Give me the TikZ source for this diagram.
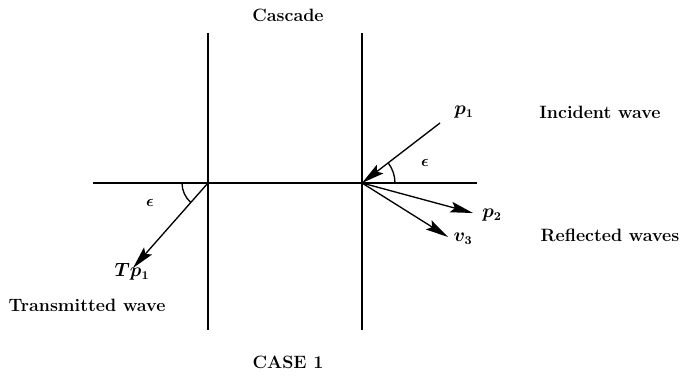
\documentclass[tikz,border=0pt]{standalone}
\usepackage{amsmath, amssymb}
\usetikzlibrary{arrows.meta, calc}
\tikzstyle{wall}=[line width=1pt]
\tikzstyle{wave}=[line width=1pt, -{Stealth[length=17pt, width=8pt, inset=3pt]}]
\tikzstyle{caption}=[font=\fontsize{13.4}{16}\selectfont\bfseries]
\tikzstyle{sym}=[font=\fontsize{13.4}{16}\selectfont\boldmath, inner sep=1pt]
\tikzstyle{angle}=[font=\large\boldmath, inner sep=1pt]

\begin{document}
\begin{tikzpicture}[x=0.75pt, y=0.75pt]
	\useasboundingbox (0,0) rectangle (686,381);

	% Blades of the cascade
	\foreach \x/\n in {208/L, 362/R}{
		\coordinate (\n top) at (\x,348);
		\coordinate (\n bot) at (\x,51);
		\draw[wall] (\n top) -- (\n bot);
	}
	\coordinate (J1) at (208,198);
	\coordinate (J2) at (362,198);
	\coordinate (axisL) at (93,198);
	\coordinate (axisR) at (477,198);
	\draw[wall] (axisL) -- (axisR);

	% Waves
	\coordinate (inc) at (440,258);
	\coordinate (refl2) at (473,168);
	\coordinate (refl3) at (448,144);
	\coordinate (trans) at (133,113);
	\draw[wave] (inc) -- (J2);
	\draw[wave] (J2) -- (refl2);
	\draw[wave] (J2) -- (refl3);
	\draw[wave] (J1) -- (trans);

	% Angles
	\draw[wall] ($(J2)+(33,0)$) arc[start angle=0, end angle=37.6, radius=33];
	\draw[wall] ($(J1)+(-26,0)$) arc[start angle=180, end angle=228.6, radius=26];
	\node[angle] (epsR) at (425,218) {$\epsilon$};
	\node[angle] (epsL) at (150,178) {$\epsilon$};

	% Labels
	\node[sym] (p1) at (464,269) {$p_1$};
	\node[sym] (p2) at (492,166) {$p_2$};
	\node[sym] (v3) at (463,142) {$v_3$};
	\node[sym] (Tp1) at (132,109) {$Tp_1$};

	\node[caption] (cascade) at (288,366) {Cascade};
	\node[caption] (incident) at (600,269) {Incident wave};
	\node[caption] (reflected) at (610,146) {Reflected waves};
	\node[caption] (transmitted) at (87,76) {Transmitted wave};
	\node[caption] (case) at (288,19) {CASE 1};
\end{tikzpicture}
\end{document}
